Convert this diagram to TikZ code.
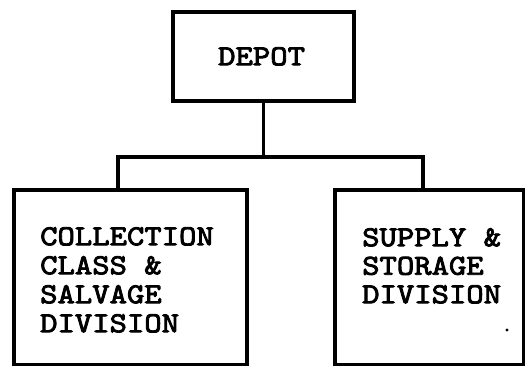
\documentclass[tikz,border=0pt]{standalone}
\usepackage{fontspec}
\newfontfamily\tw{lmmono10-regular.otf}[FakeBold=3,FakeStretch=1.14]
\begin{document}
\begin{tikzpicture}[x=1pt,y=-1pt,
  orgbox/.style={draw,rectangle,line width=3.6pt,inner sep=0pt,anchor=north west},
  lbl/.style={anchor=north west,inner sep=0pt,align=left,font=\tw\fontsize{29}{29}\selectfont},
  conn/.style={line width=3.2pt}]
\useasboundingbox (0,0) rectangle (525,366);
\node[orgbox,minimum width=181pt,minimum height=89pt] (depot) at (171,10) {};
\node[orgbox,minimum width=233pt,minimum height=175pt] (left) at (12,188) {};
\node[orgbox,minimum width=189pt,minimum height=175pt] (right) at (333,188) {};
\node[lbl] (tdepot) at (218,47) {DEPOT};
\node[lbl] (tleft) at (40,227) {COLLECTION\\CLASS \&\\SALVAGE\\DIVISION};
\node[lbl,font=\tw\fontsize{29}{28.5}\selectfont] (tright) at (362,228) {SUPPLY \&\\STORAGE\\DIVISION};
\coordinate (lj) at (118,157);
\coordinate (rj) at (423,157);
\draw[conn] (depot.south) -- (depot.south |- lj);
\draw[conn] (left.north -| lj) -- (lj) -- (rj) -- (right.north -| rj);
\fill (507,330) circle (1.6pt);
\end{tikzpicture}
\end{document}
